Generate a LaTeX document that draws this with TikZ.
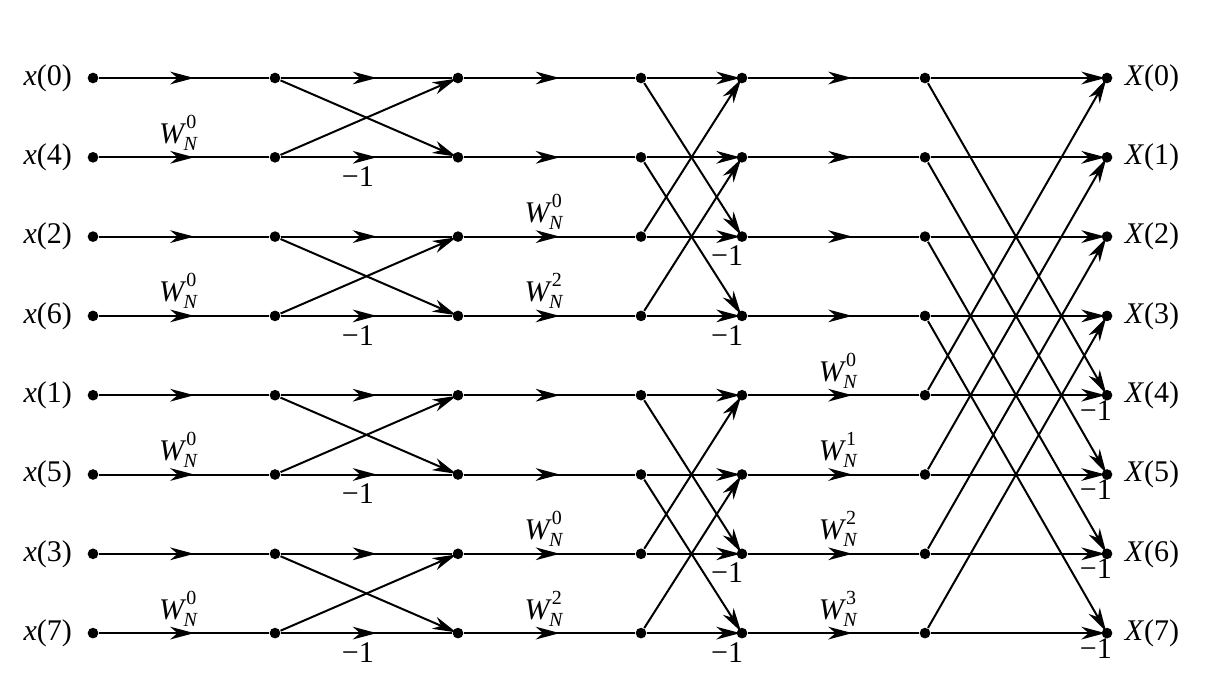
\documentclass[tikz,border=0pt]{standalone}
\usepackage{amsmath}
\usepackage{fontspec}
\setmainfont{Liberation Serif}
\usetikzlibrary{positioning,arrows.meta,decorations.markings}
\newcommand{\twid}[1]{\textit{W}$^{\text{\raisebox{0.7pt}{#1}}}_{\text{\kern-0.8pt\raisebox{-0.5pt}{\itshape N}}}$}
\tikzset{
  dot/.style={circle,fill,inner sep=0pt,minimum size=3.2pt},
  flow/.style={line width=0.6pt},
  tip/.style={flow,-{Stealth[length=7.2pt,width=3.8pt,inset=2.2pt]},shorten >=-1.3pt},
  midtip/.style={flow,postaction={decorate},
    decoration={markings,mark=at position #1 with {\arrow{Stealth[length=7.2pt,width=3.8pt,inset=2.2pt]}}}},
  midtip/.default=0.56,
  wlab/.style={above=0.8pt,inner sep=1pt},
  neg/.style={below=1.5pt,inner sep=1pt},
}

\begin{document}
\begin{tikzpicture}[x=0.3pt,y=-0.3pt,font=\small]
\useasboundingbox (0,0) rectangle (1214,690);
% dots and terminal labels
\foreach \r/\k in {0/0,1/4,2/2,3/6,4/1,5/5,6/3,7/7}{
  \foreach \c/\xx in {0/93,1/275,2/458,3/641,4/742,5/925,6/1107}
    \node[dot] (n\c-\r) at (\xx,{78+79.3*\r}) {};
  \node[left=1pt of n0-\r] (x\k) {\textit{x}(\k)};
  \node[right=0pt of n6-\r] (X\r) {\textit{X}(\r)};
}

% stage 1
\foreach \r in {0,2,4,6}
  \draw[midtip] (n0-\r) -- (n1-\r);
\foreach \r in {1,3,5,7}
  \draw[midtip] (n0-\r) -- node[wlab,pos=.47] {\twid{0}} (n1-\r);
\foreach \r in {0,2,4,6}
  \draw[midtip] (n1-\r) -- (n2-\r);
\foreach \r in {1,3,5,7}
  \draw[midtip] (n1-\r) -- node[neg,pos=.45] {−1} (n2-\r);
\foreach \a/\b in {0/1,2/3,4/5,6/7}{
  \draw[tip] (n1-\a) -- (n2-\b);
  \draw[tip] (n1-\b) -- (n2-\a);
}

% stage 2
\foreach \r in {0,1,4,5}
  \draw[midtip] (n2-\r) -- (n3-\r);
\foreach \r/\p in {2/0,3/2,6/0,7/2}
  \draw[midtip] (n2-\r) -- node[wlab,pos=.47] {\twid{\p}} (n3-\r);
\foreach \r in {0,1,4,5}
  \draw[tip] (n3-\r) -- (n4-\r);
\foreach \r in {2,3,6,7}
  \draw[tip] (n3-\r) -- node[neg,pos=.9] {−1} (n4-\r);
\foreach \a/\b in {0/2,1/3,4/6,5/7}{
  \draw[tip] (n3-\a) -- (n4-\b);
  \draw[tip] (n3-\b) -- (n4-\a);
}

% stage 3
\foreach \r in {0,1,2,3}
  \draw[midtip=.61] (n4-\r) -- (n5-\r);
\foreach \r/\p in {4/0,5/1,6/2,7/3}
  \draw[midtip=.61] (n4-\r) -- node[wlab,pos=.53] {\twid{\p}} (n5-\r);
\foreach \r in {0,1,2,3}
  \draw[tip] (n5-\r) -- (n6-\r);
\foreach \r in {4,5,6,7}
  \draw[tip] (n5-\r) -- node[neg,below=0.3pt,pos=.97] {−1} (n6-\r);
\foreach \a/\b in {0/4,1/5,2/6,3/7}{
  \draw[tip] (n5-\a) -- (n6-\b);
  \draw[tip] (n5-\b) -- (n6-\a);
}
\end{tikzpicture}
\end{document}
